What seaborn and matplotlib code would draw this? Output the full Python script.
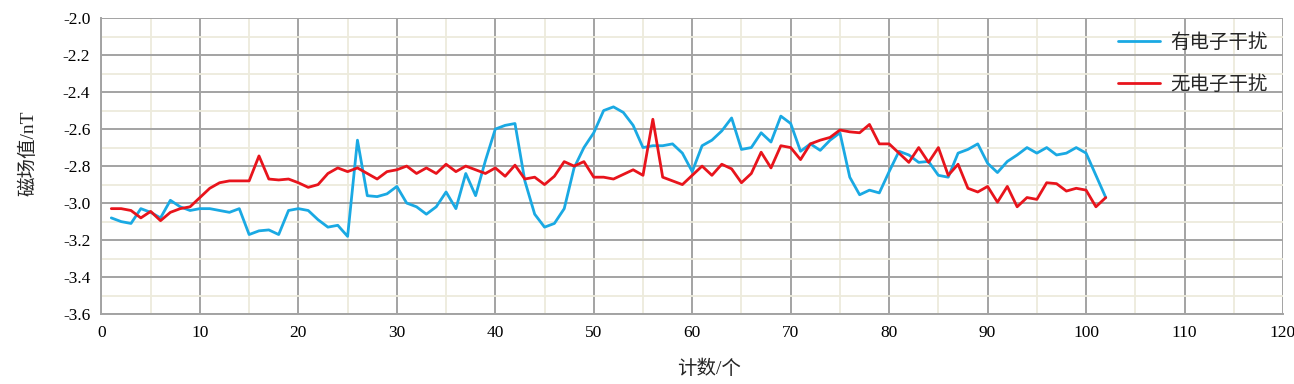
import numpy as np
import pandas as pd
import matplotlib
matplotlib.use("Agg")
import matplotlib.pyplot as plt
import seaborn as sns
from matplotlib.ticker import MultipleLocator

counts = list(range(1, 103))
with_interference = [
    -3.08, -3.10, -3.11, -3.03, -3.05, -3.08, -2.985, -3.02, -3.04, -3.03,
    -3.03, -3.04, -3.05, -3.03, -3.17, -3.15, -3.145, -3.17, -3.04, -3.03,
    -3.04, -3.09, -3.13, -3.12, -3.18, -2.66, -2.96, -2.965, -2.95, -2.91,
    -3.00, -3.02, -3.06, -3.02, -2.94, -3.03, -2.84, -2.96, -2.77, -2.60,
    -2.58, -2.57, -2.88, -3.06, -3.13, -3.11, -3.03, -2.81, -2.70, -2.62,
    -2.50, -2.48, -2.51, -2.58, -2.70, -2.69, -2.69, -2.68, -2.73, -2.83,
    -2.69, -2.66, -2.61, -2.54, -2.71, -2.70, -2.62, -2.67, -2.53, -2.57,
    -2.72, -2.68, -2.715, -2.66, -2.62, -2.86, -2.955, -2.93, -2.945, -2.83,
    -2.72, -2.74, -2.78, -2.775, -2.85, -2.86, -2.73, -2.71, -2.68, -2.785,
    -2.835, -2.775, -2.74, -2.70, -2.73, -2.70, -2.74, -2.73, -2.70, -2.73,
    -2.85, -2.97,
]
without_interference = [
    -3.03, -3.03, -3.04, -3.08, -3.045, -3.095, -3.05, -3.03, -3.02, -2.97,
    -2.92, -2.89, -2.88, -2.88, -2.88, -2.745, -2.87, -2.875, -2.87, -2.89,
    -2.915, -2.90, -2.84, -2.81, -2.83, -2.81, -2.84, -2.87, -2.83, -2.82,
    -2.80, -2.84, -2.81, -2.84, -2.79, -2.83, -2.80, -2.82, -2.84, -2.81,
    -2.855, -2.795, -2.87, -2.86, -2.90, -2.855, -2.776, -2.80, -2.776, -2.86,
    -2.86, -2.87, -2.845, -2.82, -2.85, -2.547, -2.86, -2.88, -2.90, -2.85,
    -2.80, -2.85, -2.79, -2.815, -2.89, -2.84, -2.725, -2.81, -2.69, -2.70,
    -2.765, -2.68, -2.66, -2.645, -2.605, -2.615, -2.62, -2.575, -2.68, -2.68,
    -2.73, -2.78, -2.70, -2.78, -2.70, -2.85, -2.79, -2.92, -2.94, -2.91,
    -2.995, -2.91, -3.02, -2.97, -2.98, -2.89, -2.895, -2.935, -2.92, -2.93,
    -3.02, -2.97,
]
series_names = ["有电子干扰", "无电子干扰"]
x_ticks = list(range(0, 121, 10))
y_ticks = [-3.6, -3.4, -3.2, -3.0, -2.8, -2.6, -2.4, -2.2, -2.0]

df = pd.DataFrame({
    "计数": counts * 2,
    "值": with_interference + without_interference,
    "系列": [series_names[0]] * len(counts) + [series_names[1]] * len(counts),
})

sns.set_theme(style="white")
plt.rcParams["font.family"] = ["Liberation Serif", "Noto Sans CJK SC", "DejaVu Sans"]
plt.rcParams["axes.unicode_minus"] = False

fig = plt.figure(figsize=(12.94, 3.84), dpi=100)
ax = fig.add_axes([0.0784, 0.182, 0.9131, 0.771])

palette = {series_names[0]: "#1aa9e3", series_names[1]: "#e8141c"}
sns.lineplot(data=df, x="计数", y="值", hue="系列", palette=palette,
             linewidth=2.0, ax=ax)

ax.set_xlim(0, 120)
ax.set_ylim(-3.6, -2.0)
ax.set_xticks(x_ticks)
ax.set_yticks(y_ticks)
ax.set_yticklabels([f"{v:.1f}" for v in y_ticks])
ax.xaxis.set_minor_locator(MultipleLocator(5))
ax.yaxis.set_minor_locator(MultipleLocator(0.1))
ax.grid(which="minor", color="#edebdc", linewidth=1.3)
ax.grid(which="major", color="#a3a3a3", linewidth=1.4)
ax.set_axisbelow(True)

for s in ["top", "right"]:
    ax.spines[s].set_visible(False)
for s in ["left", "bottom"]:
    ax.spines[s].set_color("#a3a3a3")
    ax.spines[s].set_linewidth(1.4)

ax.tick_params(axis="both", which="major", direction="out", length=5,
               width=1.2, color="#a3a3a3", labelsize=12.5, labelcolor="black", pad=3)
ax.tick_params(axis="both", which="minor", length=0)

ax.set_xlabel("计数/个", fontsize=14)
ax.set_ylabel("磁场值/nT", fontsize=14)
ax.xaxis.set_label_coords(0.514, -0.155)
ax.yaxis.set_label_coords(-0.054, 0.545)

leg = ax.legend(loc="upper right", frameon=False, fontsize=14,
                labelspacing=1.2, handlelength=2.2, handletextpad=0.5,
                borderpad=0.0, borderaxespad=0.0,
                bbox_to_anchor=(0.987, 0.949))
for line in leg.get_lines():
    line.set_linewidth(2.0)

fig.savefig("out.png", dpi=100)
